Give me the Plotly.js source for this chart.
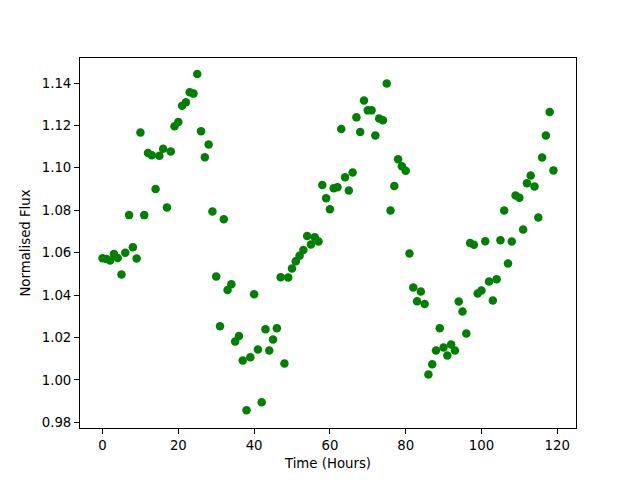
<!DOCTYPE html>
<html>
<head>
<meta charset="utf-8">
<script src="https://cdn.plot.ly/plotly-3.0.1.min.js"></script>
<style>html,body{margin:0;padding:0;background:#fff;}#chart{width:640px;height:480px;}</style>
</head>
<body>
<div id="chart"></div>
<script>
const timeHours = [];
for (let i = 0; i < 120; i++) timeHours.push(i);

const normalisedFlux = [
  1.0574, 1.0570, 1.0563, 1.0594, 1.0575, 1.0497, 1.0600, 1.0777, 1.0626, 1.0572,
  1.1167, 1.0777, 1.1070, 1.1059, 1.0900, 1.1057, 1.1090, 1.0813, 1.1077, 1.1196,
  1.1216, 1.1293, 1.1309, 1.1357, 1.1350, 1.1442, 1.1173, 1.1050, 1.1110, 1.0794,
  1.0487, 1.0253, 1.0757, 1.0424, 1.0451, 1.0181, 1.0207, 1.0091, 0.9857, 1.0107,
  1.0404, 1.0143, 0.9894, 1.0239, 1.0138, 1.0190, 1.0244, 1.0484, 1.0077, 1.0483,
  1.0525, 1.0560, 1.0585, 1.0612, 1.0678, 1.0639, 1.0673, 1.0653, 1.0919, 1.0857,
  1.0805, 1.0904, 1.0909, 1.1183, 1.0956, 1.0893, 1.0978, 1.1238, 1.1169, 1.1318,
  1.1271, 1.1271, 1.1153, 1.1233, 1.1224, 1.1398, 1.0799, 1.0914, 1.1041, 1.1007,
  1.0986, 1.0596, 1.0436, 1.0371, 1.0417, 1.0358, 1.0025, 1.0074, 1.0138, 1.0244,
  1.0153, 1.0115, 1.0167, 1.0138, 1.0370, 1.0322, 1.0219, 1.0645, 1.0637, 1.0407,
  1.0421, 1.0654, 1.0464, 1.0374, 1.0475, 1.0659, 1.0799, 1.0549, 1.0653, 1.0870,
  1.0859, 1.0709, 1.0927, 1.0964, 1.0912, 1.0766, 1.1049, 1.1153, 1.1263, 1.0988
];

const xTicks = [0, 20, 40, 60, 80, 100, 120];
const yTicks = [0.98, 1.00, 1.02, 1.04, 1.06, 1.08, 1.10, 1.12, 1.14];

const font = {family: 'DejaVu Sans', size: 13.3, color: '#000'};

const trace = {
  x: timeHours,
  y: normalisedFlux,
  type: 'scatter',
  mode: 'markers',
  marker: {color: '#008000', size: 8.5, line: {width: 0}},
  hoverinfo: 'x+y'
};

const layout = {
  width: 640,
  height: 480,
  margin: {l: 80, r: 64, t: 58, b: 52, pad: 0},
  paper_bgcolor: '#fff',
  plot_bgcolor: '#fff',
  showlegend: false,
  font: font,
  xaxis: {
    range: [-5.95, 124.95],
    tickmode: 'array',
    tickvals: xTicks,
    ticktext: xTicks.map(String),
    ticks: 'outside',
    ticklen: 5,
    tickwidth: 1,
    tickcolor: '#000',
    showgrid: false,
    zeroline: false,
    showline: true,
    linecolor: '#000',
    linewidth: 1,
    mirror: true,
    tickfont: font,
    title: {text: 'Time (Hours)', font: font, standoff: 6}
  },
  yaxis: {
    range: [0.9773, 1.1518],
    tickmode: 'array',
    tickvals: yTicks,
    ticktext: yTicks.map(v => v.toFixed(2)),
    ticks: 'outside',
    ticklen: 5,
    tickwidth: 1,
    tickcolor: '#000',
    showgrid: false,
    zeroline: false,
    showline: true,
    linecolor: '#000',
    linewidth: 1,
    mirror: true,
    tickfont: font,
    title: {text: 'Normalised Flux', font: font, standoff: 8}
  }
};

Plotly.newPlot('chart', [trace], layout, {displayModeBar: false, staticPlot: true});
</script>
</body>
</html>
